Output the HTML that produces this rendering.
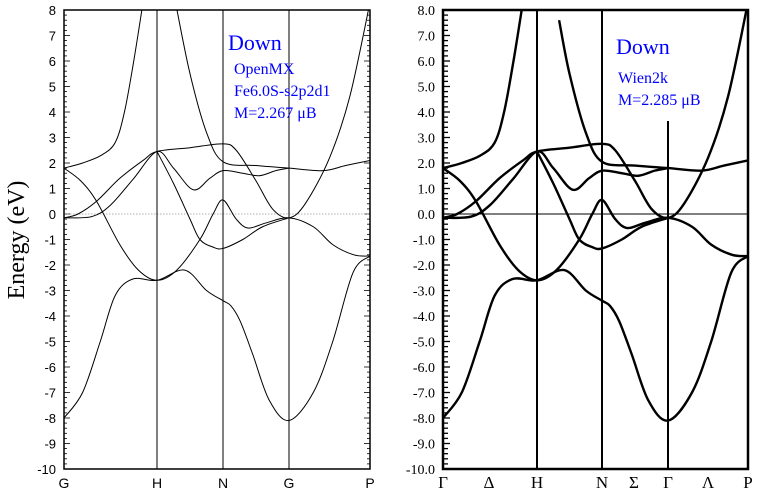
<!DOCTYPE html>
<html><head><meta charset="utf-8"><style>
html,body{margin:0;padding:0;background:#fff;}
svg{display:block;}
</style></head><body>
<svg id="s" width="767" height="495" xmlns="http://www.w3.org/2000/svg">
<rect width="767" height="495" fill="#fff"/>
<g id="L"></g><g id="R"></g>
<text x="0" y="0" transform="translate(24,240) rotate(-90)" text-anchor="middle" font-family="Liberation Serif, serif" font-size="24">Energy (eV)</text>
<g font-family="Liberation Serif, serif" fill="#0000ff">
<text x="228" y="50" font-size="22">Down</text>
<text x="234" y="74" font-size="16">OpenMX</text>
<text x="234" y="96" font-size="16">Fe6.0S-s2p2d1</text>
<text x="234" y="118" font-size="16">M=2.267 μB</text>
<text x="616" y="54" font-size="22">Down</text>
<text x="618" y="83" font-size="16">Wien2k</text>
<text x="618" y="105" font-size="16">M=2.285 μB</text>
</g>
</svg>
<script>
const NS="http://www.w3.org/2000/svg";
function el(p,t,a,txt){const e=document.createElementNS(NS,t);for(const k in a)e.setAttribute(k,a[k]);if(txt!==undefined)e.textContent=txt;p.appendChild(e);return e;}
const bands=[
 [[0,-8],[0.2,-7],[0.39,-5],[0.55,-3.2],[0.74,-2.55],[1,-2.6],[1.42,-2.2],[1.75,-3.0],[2,-3.4],[2.12,-3.6],[2.26,-4.2],[2.45,-5.5],[2.7,-7.3],[3,-8.1],[3.3,-7.0],[3.54,-5],[3.79,-2.3],[4,-1.65]],
 [[0,1.8],[0.18,1.3],[0.35,0.5],[0.6,-1.2],[0.8,-2.2],[1,-2.6],[1.3,-2.2],[1.65,-1.0],[1.85,0.0],[2,0.55],[2.2,-0.2],[2.38,-0.55],[2.65,-0.35],[3,-0.15],[3.3,-0.5],[3.54,-1.2],[3.8,-1.6],[4,-1.65]],
 [[0,1.8],[0.2,2.0],[0.4,2.3],[0.55,2.8],[0.65,4],[0.75,6],[0.85,8.3]],
 [[0,-0.15],[0.15,0],[0.35,0.5],[0.6,1.4],[0.85,2.1],[1,2.45],[1.5,2.6],[2,2.75],[2.2,2.5],[2.5,1.3],[2.75,0.2],[3,-0.15],[3.2,0.4],[3.5,2.2],[3.75,4.6],[4,8.3]],
 [[0,-0.15],[0.3,-0.1],[0.5,0.35],[0.74,1.35],[1,2.45],[1.25,1.8],[1.55,0.95],[1.8,1.4],[2,1.7],[2.3,1.6],[2.55,1.5],[2.8,1.7],[3,1.8]],
 [[1.28,8.3],[1.5,5.5],[1.75,3.2],[2,2.05],[2.5,1.9],[3,1.8],[3.42,1.7],[3.7,1.9],[4,2.1]],
 [[1,2.45],[1.25,1.2],[1.5,-0.2],[1.65,-1.0],[1.85,-1.3],[2,-1.35],[2.3,-1.0],[2.6,-0.5],[3,-0.15]]
];
function path(pts,X,Y){const P=pts.map(p=>[X(p[0]),Y(p[1])]);let d="M"+P[0][0]+","+P[0][1];
 for(let i=0;i<P.length-1;i++){const p0=P[Math.max(0,i-1)],p1=P[i],p2=P[i+1],p3=P[Math.min(P.length-1,i+2)];
  d+=` C${p1[0]+(p2[0]-p0[0])/6},${p1[1]+(p2[1]-p0[1])/6} ${p2[0]-(p3[0]-p1[0])/6},${p2[1]-(p3[1]-p1[1])/6} ${p2[0]},${p2[1]}`;}return d;}
function panel(g,xs,right){
 const x0=xs[0],x1=xs[4],yt=10,yb=469,Y=e=>yt+(8-e)*(yb-yt)/18;
 const X=k=>{const i=Math.min(3,Math.floor(k));return xs[i]+(k-i)*(xs[i+1]-xs[i]);};
 const id="c"+(right?1:0);const cp=el(g,"clipPath",{id});el(cp,"rect",{x:x0,y:yt,width:x1-x0,height:yb-yt});
 const sw=right?2.4:1;
 for(let v=-10;v<=8.001;v+=0.2){const y=Y(v),maj=Math.abs(v-Math.round(v))<1e-6;
  if(right){el(g,"line",{x1:x0,x2:x0+(maj?7:5),y1:y,y2:y,stroke:"#000","stroke-width":1.3});}
  else{const l=maj?6:3;el(g,"line",{x1:x0,x2:x0+l,y1:y,y2:y,stroke:"#000","stroke-width":0.8});el(g,"line",{x1:x1,x2:x1-l,y1:y,y2:y,stroke:"#000","stroke-width":0.8});}}
 for(let v=-10;v<=8;v++){el(g,"text",{x:x0-8,y:Y(v)+5,"text-anchor":"end","font-family":right?"Liberation Serif, serif":"Liberation Sans, sans-serif","font-size":right?14:13},right?v.toFixed(1):String(v));}
 if(right)el(g,"line",{x1:x0,x2:x1,y1:Y(0),y2:Y(0),stroke:"#000","stroke-width":1});
 else el(g,"line",{x1:x0,x2:x1,y1:Y(0),y2:Y(0),stroke:"#999","stroke-width":0.8,"stroke-dasharray":"1.5,1.5"});
 for(let i=1;i<4;i++){el(g,"line",{x1:xs[i],x2:xs[i],y1:(right&&i==3)?121:yt,y2:yb,stroke:"#000","stroke-width":right?2:1});}
 const bg=el(g,"g",{"clip-path":`url(#${id})`,fill:"none",stroke:"#000","stroke-width":sw});
 bands.forEach(b=>{let pts=b;if(right&&b[0][0]==1.28)pts=[[1.34,7.6]].concat(b.slice(1));el(bg,"path",{d:path(pts,X,Y)});});
 el(g,"rect",{x:x0,y:yt,width:x1-x0,height:yb-yt,fill:"none",stroke:"#000","stroke-width":right?2.5:1.5});
}
panel(document.getElementById("L"),[64,157,223,289,370],false);
panel(document.getElementById("R"),[443,537,602,668,748],true);
const L=document.getElementById("L");
[["G",64],["H",157],["N",223],["G",289],["P",370]].forEach(a=>el(L,"text",{x:a[1],y:488,"text-anchor":"middle","font-family":"Liberation Sans, sans-serif","font-size":14},a[0]));
const R=document.getElementById("R");
[["Γ",443],["Δ",489],["H",537],["N",602],["Σ",634],["Γ",668],["Λ",708],["P",748]].forEach(a=>el(R,"text",{x:a[1],y:488,"text-anchor":"middle","font-family":"Liberation Serif, serif","font-size":17},a[0]));
</script>
</body></html>
